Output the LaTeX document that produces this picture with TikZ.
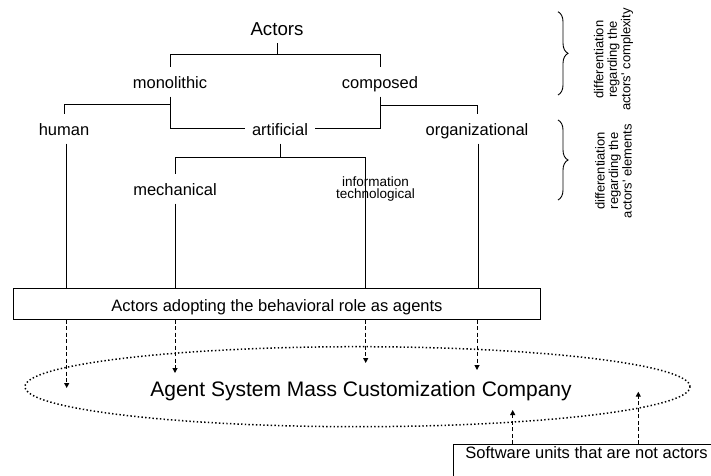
\documentclass[tikz,border=0pt]{standalone}
\usepackage{fontspec}
\setmainfont{Liberation Sans}
\usetikzlibrary{arrows.meta,shapes.geometric,decorations.pathreplacing}
\begin{document}
\begin{tikzpicture}[x=1pt,y=-1pt,
  lbl/.style={font=\fontsize{16.5}{18}\selectfont, inner xsep=7pt, inner ysep=0pt,
              text height=21pt, text depth=8.5pt, anchor=base},
  conn/.style={line width=0.9pt},
  dasharrow/.style={line width=1pt, dash pattern=on 4pt off 2.5pt,
                    -{Triangle[length=5pt,width=5pt]}},
  sidenote/.style={font=\fontsize{13}{13.5}\selectfont, rotate=90, align=center, inner sep=0pt},
  bracestyle/.style={line width=0.9pt, decorate, decoration={brace, amplitude=10pt}},
  boxstyle/.style={draw, line width=0.9pt, font=\fontsize{16.5}{18}\selectfont, inner sep=0pt},
  dotellipse/.style={draw, ellipse, line width=1.5pt, dash pattern=on 1.4pt off 2.3pt, inner sep=0pt},
]
\useasboundingbox (0,0) rectangle (711,475);
\clip (0,0) rectangle (711,475);

% labels
\node[lbl, font=\fontsize{18.7}{20}\selectfont, text height=13pt, text depth=8pt] (actors) at (277,35) {Actors};
\node[lbl] (mono) at (170,88) {monolithic};
\node[lbl] (comp) at (380,88) {composed};
\node[lbl] (human) at (64,135) {human};
\node[lbl] (artif) at (280,135) {artificial};
\node[lbl] (orga) at (477,135) {organizational};
\node[lbl] (mech) at (175,195) {mechanical};
\node[font=\fontsize{13.5}{12.2}\selectfont, align=center, inner sep=0pt] (info) at (375.5,189) {information\\technological};

% boxes
\node[boxstyle, minimum width=527.4pt, minimum height=30.7pt, text height=16pt, text depth=0pt] (box1) at (277,303.7)
  {Actors adopting the behavioral role as agents};
\node[boxstyle, anchor=north west, inner xsep=11.7pt, text height=13.7pt, text depth=30pt] (soft) at (453.3,444)
  {Software units that are not actors};

% ellipse
\node[dotellipse, minimum width=665pt, minimum height=80pt] (company) at (357.5,386.7) {};
\node[font=\fontsize{21}{23}\selectfont, anchor=base, inner sep=0pt] (companytext) at (361,396.7)
  {Agent System Mass Customization Company};

% side notes
\node[sidenote] (note1) at (613.5,59.5) {differentiation\\regarding the\\actors\textquotesingle\ complexity};
\node[sidenote] (note2) at (613.5,171) {differentiation\\regarding the\\actors\textquotesingle\ elements};
\coordinate (b1t) at (558,11.7);
\coordinate (b1b) at (558,95);
\coordinate (b2t) at (558,120);
\coordinate (b2b) at (558,200);
\draw[bracestyle] (b1t) -- (b1b);
\draw[bracestyle] (b2t) -- (b2b);

% junctions
\coordinate (jA) at (277,54.5);
\coordinate (jM) at (170,104.3);
\coordinate (jC) at (380,105);
\coordinate (jAr) at (280,157.7);
\coordinate (infoTop) at (365.7,157.7);

% tree connectors
\draw[conn] (actors.south) -- (jA);
\draw[conn] (mono.north) |- (comp.north |- jA) -- (comp.north);
\draw[conn] (mono.south) |- (artif.west);
\draw[conn] (jM) -| (human.north);
\draw[conn] (comp.south) |- (artif.east);
\draw[conn] (jC) -| (orga.north);
\draw[conn] (artif.south) -- (jAr);
\draw[conn] (mech.north) |- (infoTop) -- (infoTop |- box1.north);
\draw[conn] ([xshift=2.7pt]human.south) -- ([xshift=2.7pt]human.south |- box1.north);
\draw[conn] (mech.south) -- (mech.south |- box1.north);
\draw[conn] ([xshift=1.3pt]orga.south) -- ([xshift=1.3pt]orga.south |- box1.north);

% dashed arrows down
\coordinate (tH) at (66.7,388);
\coordinate (tM) at (175,373);
\coordinate (tI) at (365.7,363);
\coordinate (tO) at (477,370);
\draw[dasharrow] (tH |- box1.south) -- (tH);
\draw[dasharrow] (tM |- box1.south) -- (tM);
\draw[dasharrow] (tI |- box1.south) -- (tI);
\draw[dasharrow] (tO |- box1.south) -- (tO);

% dashed arrows up
\coordinate (tS1) at (512.7,410);
\coordinate (tS2) at (638.3,391.7);
\draw[dasharrow] (tS1 |- soft.north) -- (tS1);
\draw[dasharrow] (tS2 |- soft.north) -- (tS2);
\end{tikzpicture}
\end{document}
